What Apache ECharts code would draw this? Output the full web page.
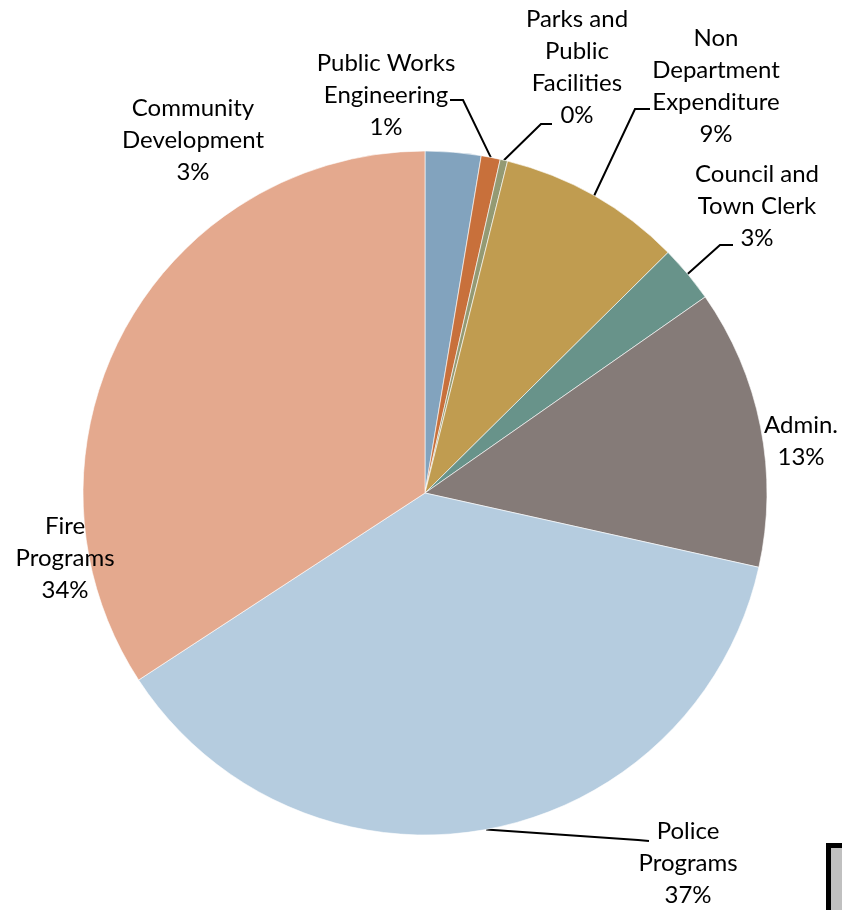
<!DOCTYPE html>
<html>
<head>
<meta charset="utf-8">
<script src="https://cdn.jsdelivr.net/npm/echarts@6/dist/echarts.min.js"></script>
<style>html,body{margin:0;padding:0;background:#fff;}#chart{width:842px;height:910px;}</style>
</head>
<body>
<div id="chart"></div>
<script>
// Data
const categories = [
  'Community\nDevelopment',
  'Public Works\nEngineering',
  'Parks and\nPublic\nFacilities',
  'Non\nDepartment\nExpenditure',
  'Council and\nTown Clerk',
  'Admin.',
  'Police\nPrograms',
  'Fire\nPrograms'
];
const values = [2.63, 0.9, 0.35, 8.7, 2.7, 13.2, 37.3, 34.2];
const colors = ['#82A3BE', '#C8703B', '#949A73', '#C09C50', '#68938A', '#857B78', '#B5CCDF', '#E4A98E'];

// Layout of labels (centre of the text block) and leader lines (elbow, end)
const labelPos = [
  [193, 140], [386, 95], [577, 67], [716, 86],
  [757, 206], [801, 441], [688, 863], [65, 558]
];
const leader = [
  null,
  [[463, 100], [450, 100]],
  [[541, 124], [552, 124]],
  [[635, 109], [650, 109]],
  [[720, 245], [733, 245]],
  null,
  [[638, 840], [649, 841]],
  null
];

const chart = echarts.init(document.getElementById('chart'), null, {renderer: 'canvas'});
const data = categories.map((c, i) => ({
  name: c,
  value: values[i],
  itemStyle: {color: colors[i]},
  labelLine: {show: !!leader[i]}
}));

chart.setOption({
  animation: false,
  backgroundColor: '#fff',
  series: [{
    type: 'pie',
    center: [425, 493],
    radius: 342,
    startAngle: 90,
    clockwise: true,
    avoidLabelOverlap: false,
    data: data,
    itemStyle: {borderColor: '#ffffff', borderWidth: 0.6},
    label: {
      show: true,
      position: 'outside',
      formatter: p => p.name + '\n' + Math.round(p.percent) + '%',
      fontFamily: 'Lato, "Noto Sans", sans-serif',
      fontSize: 24,
      lineHeight: 32,
      color: '#000',
      align: 'center'
    },
    labelLine: {
      show: true,
      length: 0,
      length2: 0,
      lineStyle: {color: '#000', width: 2}
    },
    emphasis: {disabled: true},
    labelLayout: function (params) {
      const i = params.dataIndex;
      const out = {
        x: labelPos[i][0],
        y: labelPos[i][1],
        align: 'center',
        verticalAlign: 'middle'
      };
      if (leader[i] && params.labelLinePoints) {
        const p0 = params.labelLinePoints[0];
        out.labelLinePoints = [[p0[0], p0[1]], leader[i][0], leader[i][1]];
      }
      return out;
    }
  }],
  graphic: [{
    type: 'rect',
    shape: {x: 828.5, y: 845.5, width: 40, height: 90},
    style: {fill: '#C0C0C0', stroke: '#000', lineWidth: 5},
    silent: true
  }]
});
</script>
</body>
</html>
